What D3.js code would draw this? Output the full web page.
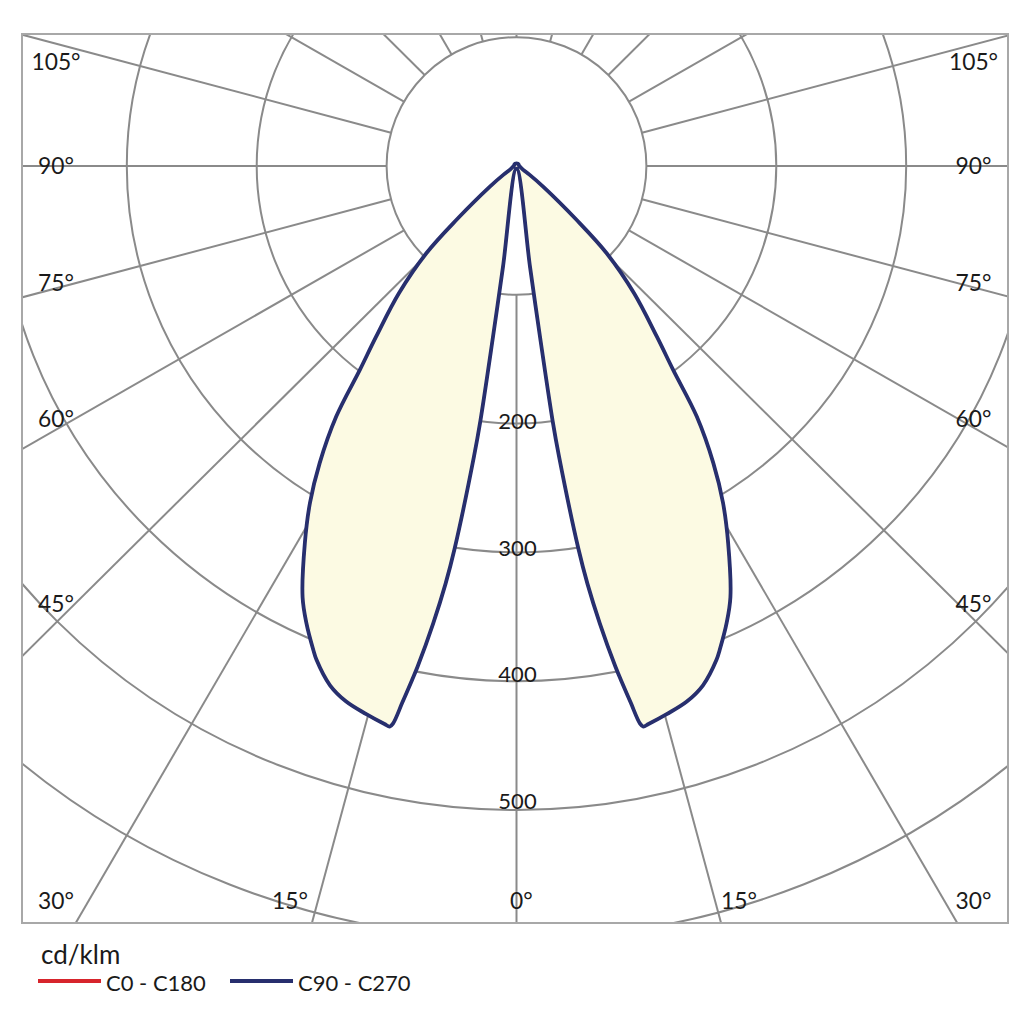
<!DOCTYPE html>
<html>
<head>
<meta charset="utf-8">
<script src="https://cdn.jsdelivr.net/npm/d3@7"></script>
<style>
html,body{margin:0;padding:0;background:#ffffff;}
svg{display:block;}
text{font-family:Lato,"Open Sans","DejaVu Sans",sans-serif;fill:#1a1a1a;}
</style>
</head>
<body>
<svg id="chart" width="1030" height="1030"></svg>
<script>
// ---------------- data ----------------
// gamma angles (degrees from nadir) for one half-plane
const gammaAngles = [0, 7.57, 7.77, 8.0, 8.26, 9.11, 9.56, 10.24, 11.08, 11.39, 11.92, 12.38, 12.64, 13.2,
  15.2, 17.5, 19.6, 21.9, 22.6, 24.5, 26.2, 29.1, 31.3, 33.3, 35.5, 37.3, 39.2, 42.5, 45.7, 47.9,
  52, 56, 60, 75, 90, 120, 150, 180];
// intensity (cd/klm), C90 half (right) - C270 half (left) mirrored
const c90c270 = [2, 79, 134, 200, 228, 301, 329, 361, 396, 407, 426, 443, 446, 445,
  441, 436, 428, 413, 407, 390, 373, 335, 306, 276, 239, 199, 171, 134, 97, 62,
  26, 12, 6, 3, 2, 2, 2, 2];
// C0 - C180 plane (hidden under C90 - C270 in the reference)
const c0c180 = [2, 79, 134, 200, 228, 301, 329, 361, 396, 407, 426, 443, 446, 445,
  441, 436, 428, 413, 407, 390, 373, 335, 306, 276, 239, 199, 171, 134, 97, 62,
  26, 12, 6, 3, 2, 2, 2, 2];
const ringValues = [100, 200, 300, 400, 500, 600];
const ringLabels = [200, 300, 400, 500];
const spokeAngles = d3.range(0, 360, 15);
const angleLabels = [0, 15, 30, 45, 60, 75, 90, 105];
const unitLabel = "cd/klm";
const legendLabels = ["C0 - C180", "C90 - C270"];
const legendColors = ["#d7242c", "#272f6e"];

// ---------------- layout ----------------
const svg = d3.select("#chart");
const frame = {left: 22, top: 34, right: 1008, bottom: 923};
const cx = 516.5, cy = 166;
const sx = d3.scaleLinear().domain([0, 100]).range([0, 129.9]);
const sy = d3.scaleLinear().domain([0, 100]).range([0, 128.8]);
const labelScale = d3.scaleLinear().domain([0, 500]).range([cy + 1.7, cy + 1.7 + 633.3]);
const gridColor = "#8a8a8a";
const rad = d => d * Math.PI / 180;
const pt = (deg, v) => [cx + Math.sin(rad(deg)) * sx(v), cy + Math.cos(rad(deg)) * sy(v)];

svg.append("rect").attr("width", 1030).attr("height", 1030).attr("fill", "#fff");

svg.append("defs").append("clipPath").attr("id", "frameClip")
  .append("rect")
  .attr("x", frame.left).attr("y", frame.top)
  .attr("width", frame.right - frame.left).attr("height", frame.bottom - frame.top);

const grid = svg.append("g").attr("clip-path", "url(#frameClip)");

grid.selectAll("ellipse.ring").data(ringValues).join("ellipse")
  .attr("class", "ring")
  .attr("cx", cx).attr("cy", cy)
  .attr("rx", d => sx(d)).attr("ry", d => sy(d))
  .attr("fill", "none").attr("stroke", gridColor).attr("stroke-width", 2);

grid.selectAll("line.spoke").data(spokeAngles).join("line")
  .attr("class", "spoke")
  .attr("x1", d => pt(d, 100)[0]).attr("y1", d => pt(d, 100)[1])
  .attr("x2", d => pt(d, 1000)[0]).attr("y2", d => pt(d, 1000)[1])
  .attr("stroke", gridColor).attr("stroke-width", 2);

svg.append("rect")
  .attr("x", frame.left).attr("y", frame.top)
  .attr("width", frame.right - frame.left).attr("height", frame.bottom - frame.top)
  .attr("fill", "none").attr("stroke", "#a8a8a8").attr("stroke-width", 2);

// ---------------- curves ----------------
function loopPoints(values) {
  const pts = [];
  for (let i = 0; i < gammaAngles.length; i++) pts.push(pt(gammaAngles[i], values[i]));
  for (let i = gammaAngles.length - 2; i >= 1; i--) pts.push(pt(-gammaAngles[i], values[i]));
  return pts;
}
const line = d3.line().curve(d3.curveCatmullRomClosed.alpha(0.5));
const plot = svg.append("g").attr("clip-path", "url(#frameClip)");

plot.append("path").attr("d", line(loopPoints(c90c270)))
  .attr("fill", "#fcfae3").attr("stroke", "none");
plot.append("path").attr("d", line(loopPoints(c0c180)))
  .attr("fill", "none").attr("stroke", legendColors[0]).attr("stroke-width", 2.4)
  .attr("stroke-linejoin", "round");
plot.append("path").attr("d", line(loopPoints(c90c270)))
  .attr("fill", "none").attr("stroke", legendColors[1]).attr("stroke-width", 3.8)
  .attr("stroke-linejoin", "round");

// ---------------- labels ----------------
const fs = 22;
const lab = svg.append("g").attr("font-size", fs);

lab.selectAll("text.ring").data(ringLabels).join("text")
  .attr("class", "ring")
  .attr("x", cx + 1).attr("y", d => labelScale(d) + 8)
  .attr("text-anchor", "middle")
  .text(d => d);

const labelItems = [];
angleLabels.forEach(a => {
  const sides = a === 0 ? [1] : [-1, 1];
  sides.forEach(s => {
    let x, y, anchor;
    if (a === 0) {
      x = cx - 6.5; y = frame.bottom - 22; anchor = "start";
    } else if (a < 30) {
      const rayX = cx + s * Math.tan(rad(a)) * (frame.bottom - cy) * (129.9 / 128.8);
      y = frame.bottom - 22;
      x = s < 0 ? rayX - 4 : rayX;
      anchor = s < 0 ? "end" : "start";
    } else {
      const d = 442;
      y = cy + d * (Math.cos(rad(a)) * 128.8) / (Math.sin(rad(a)) * 129.9);
      y = Math.max(frame.top + 28, Math.min(frame.bottom - 22, y));
      x = s < 0 ? frame.left + 34 : frame.right - 34.5;
      anchor = "middle";
    }
    labelItems.push({a, x, y, anchor});
  });
});
lab.selectAll("text.ang").data(labelItems).join("text")
  .attr("class", "ang")
  .attr("x", d => d.x).attr("y", d => d.y + 8)
  .attr("font-size", 22.8)
  .attr("text-anchor", d => d.anchor)
  .text(d => d.a + "°");

// ---------------- legend ----------------
svg.append("text").attr("x", 41).attr("y", 964).attr("font-size", 26).text(unitLabel);
const legX = [38, 230];
const leg = svg.append("g").selectAll("g").data(legendLabels).join("g");
leg.append("line")
  .attr("x1", (d, i) => legX[i]).attr("x2", (d, i) => legX[i] + 63)
  .attr("y1", 981).attr("y2", 981)
  .attr("stroke", (d, i) => legendColors[i]).attr("stroke-width", 4);
leg.append("text")
  .attr("x", (d, i) => legX[i] + 68).attr("y", 990.5)
  .attr("font-size", fs)
  .text(d => d);
</script>
</body>
</html>
